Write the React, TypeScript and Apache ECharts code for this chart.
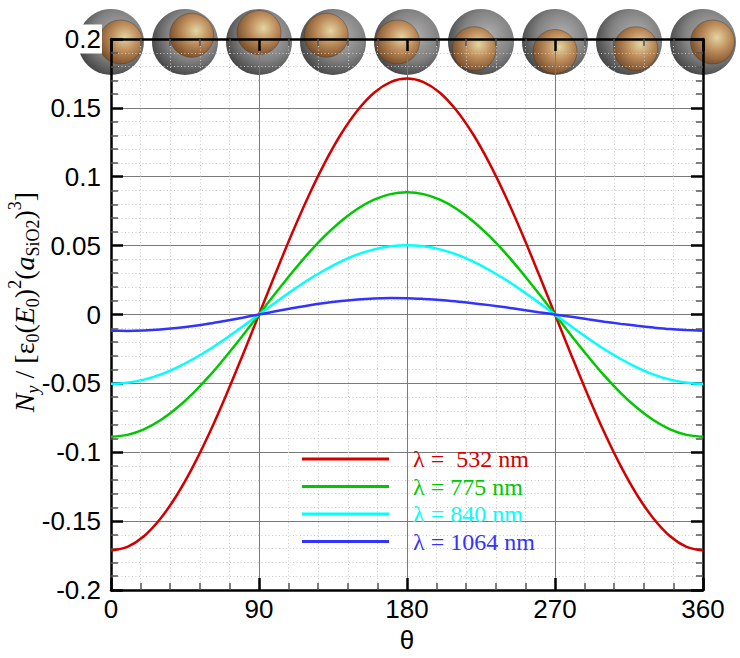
import React, { useEffect, useRef } from "react";
import * as echarts from "echarts";

// ---- data ----
const THETA = [0, 10, 20, 30, 40, 50, 60, 70, 80, 90, 100, 110, 120, 130, 140, 150, 160, 170, 180, 190, 200, 210, 220, 230, 240, 250, 260, 270, 280, 290, 300, 310, 320, 330, 340, 350, 360];

const NY_532 = [-0.1713, -0.1687, -0.161, -0.1483, -0.1312, -0.1101, -0.0857, -0.0586, -0.0297, 0, 0.0297, 0.0586, 0.0857, 0.1101, 0.1312, 0.1483, 0.161, 0.1687, 0.1713, 0.1687, 0.161, 0.1483, 0.1312, 0.1101, 0.0857, 0.0586, 0.0297, 0, -0.0297, -0.0586, -0.0857, -0.1101, -0.1312, -0.1483, -0.161, -0.1687, -0.1713];
const NY_775 = [-0.0887, -0.0874, -0.0834, -0.0768, -0.0679, -0.057, -0.0444, -0.0303, -0.0154, 0, 0.0154, 0.0303, 0.0444, 0.057, 0.0679, 0.0768, 0.0834, 0.0874, 0.0887, 0.0874, 0.0834, 0.0768, 0.0679, 0.057, 0.0444, 0.0303, 0.0154, 0, -0.0154, -0.0303, -0.0444, -0.057, -0.0679, -0.0768, -0.0834, -0.0874, -0.0887];
const NY_840 = [-0.0503, -0.0495, -0.0473, -0.0436, -0.0385, -0.0323, -0.0252, -0.0172, -0.0087, 0, 0.0087, 0.0172, 0.0252, 0.0323, 0.0385, 0.0436, 0.0473, 0.0495, 0.0503, 0.0495, 0.0473, 0.0436, 0.0385, 0.0323, 0.0252, 0.0172, 0.0087, 0, -0.0087, -0.0172, -0.0252, -0.0323, -0.0385, -0.0436, -0.0473, -0.0495, -0.0503];
const NY_1064 = [-0.0118, -0.0119, -0.0116, -0.0109, -0.0098, -0.0084, -0.0066, -0.0045, -0.0023, 0, 0.0023, 0.0045, 0.0066, 0.0084, 0.0098, 0.0109, 0.0116, 0.0119, 0.0118, 0.0113, 0.0106, 0.0095, 0.0082, 0.0068, 0.0052, 0.0035, 0.0017, 0, -0.0017, -0.0035, -0.0052, -0.0068, -0.0082, -0.0095, -0.0106, -0.0113, -0.0118];

const SERIES_VALUES = [NY_532, NY_775, NY_840, NY_1064];
const SERIES_NAMES = ["λ =  532 nm", "λ = 775 nm", "λ = 840 nm", "λ = 1064 nm"];
const SERIES_COLORS = ["#d40000", "#00c800", "#00ffff", "#3333ff"];

const X_MIN = 0;
const X_MAX = 360;
const X_STEP = 90;
const Y_MIN = -0.2;
const Y_MAX = 0.2;
const Y_STEP = 0.05;

// angles of the sphere pictograms along the top edge
const SPHERE_ANGLES = [0, 45, 90, 135, 180, 225, 270, 315, 360];

const TICK_FONT = "'Liberation Sans', Arial, Helvetica, sans-serif";
const SERIF = "'Liberation Serif', 'Times New Roman', serif";

export default function App() {
  const ref = useRef<HTMLDivElement>(null);

  useEffect(() => {
    if (!ref.current) return;
    const chart = echarts.init(ref.current, undefined, { renderer: "svg" });

    const tickCommon = {
      axisLine: { show: true, onZero: false, lineStyle: { color: "#000", width: 2.5 } },
      axisTick: { show: true, inside: true, length: 12, lineStyle: { color: "#000", width: 2.5 } },
      minorTick: { show: true, splitNumber: 5, length: 7, lineStyle: { color: "#555", width: 1.5 } },
    };

    const fmt = (v: number) => String(Math.round(v * 100) / 100);

    const lineSeries = SERIES_VALUES.map((vals, i) => ({
      type: "line",
      name: SERIES_NAMES[i],
      data: THETA.map((t, j) => [t, vals[j]]),
      smooth: 0.35,
      symbol: "none",
      lineStyle: { color: SERIES_COLORS[i], width: 2.5 },
      itemStyle: { color: SERIES_COLORS[i] },
      z: 3,
    }));

    const sphereSeries = {
      type: "custom",
      clip: false,
      silent: true,
      z: -1,
      data: SPHERE_ANGLES.map((a) => [a, Y_MAX]),
      renderItem: (_params: any, api: any) => {
        const a = api.value(0);
        const p = api.coord([a, api.value(1)]);
        const cx = p[0];
        const cy = p[1] + 3;
        const rad = (a * Math.PI) / 180;
        const ix = cx + 9.5 * Math.cos(rad);
        const iy = cy - 9.5 * Math.sin(rad);
        return {
          type: "group",
          children: [
            {
              type: "circle",
              shape: { cx, cy, r: 33 },
              style: {
                fill: new echarts.graphic.RadialGradient(0.6, 0.4, 0.62, [
                  { offset: 0, color: "#b0b0b0" },
                  { offset: 0.6, color: "#828282" },
                  { offset: 1, color: "#4a4a4a" },
                ]),
              },
            },
            {
              type: "circle",
              shape: { cx: ix, cy: iy, r: 22 },
              style: {
                fill: new echarts.graphic.RadialGradient(0.6, 0.4, 0.65, [
                  { offset: 0, color: "#e2d6a2" },
                  { offset: 0.45, color: "#c08f5e" },
                  { offset: 1, color: "#764c28" },
                ]),
                stroke: "rgba(70,50,30,0.4)",
                lineWidth: 1,
              },
            },
          ],
        };
      },
    };

    const option: any = {
      animation: false,
      backgroundColor: "#fff",
      grid: { left: 111, right: 37, top: 39, bottom: 68, containLabel: false },
      legend: {
        show: true,
        orient: "vertical",
        left: 302,
        top: 447,
        padding: 0,
        itemGap: 3.5,
        itemWidth: 87,
        itemHeight: 3,
        icon: "rect",
        selectedMode: false,
        data: SERIES_NAMES.map((n, i) => ({
          name: n,
          textStyle: { color: SERIES_COLORS[i] },
        })),
        textStyle: {
          fontFamily: SERIF,
          fontSize: 24,
          lineHeight: 24,
          padding: [0, 0, 0, 19],
        },
      },
      xAxis: [
        {
          type: "value",
          position: "bottom",
          min: X_MIN,
          max: X_MAX,
          interval: X_STEP,
          ...tickCommon,
          axisLabel: { show: true, margin: 6, fontFamily: TICK_FONT, fontSize: 26, color: "#000" },
          splitLine: { show: true, lineStyle: { color: "#7a7a7a", width: 1 } },
          minorSplitLine: { show: true, lineStyle: { color: "#c8c8c8", width: 1, type: [1, 2.5] } },
          name: "θ",
          nameLocation: "middle",
          nameGap: 20,
          nameTextStyle: { fontFamily: TICK_FONT, fontSize: 26, color: "#000", verticalAlign: "top" },
        },
        {
          type: "value",
          position: "top",
          min: X_MIN,
          max: X_MAX,
          interval: X_STEP,
          ...tickCommon,
          axisLabel: { show: false },
          splitLine: { show: false },
          minorSplitLine: { show: false },
        },
      ],
      yAxis: [
        {
          type: "value",
          position: "left",
          min: Y_MIN,
          max: Y_MAX,
          interval: Y_STEP,
          ...tickCommon,
          axisLabel: {
            show: true,
            margin: 9,
            fontFamily: TICK_FONT,
            fontSize: 26,
            color: "#000",
            formatter: fmt,
            backgroundColor: "#fff",
            padding: [2, 1, 1, 1],
          },
          splitLine: { show: true, lineStyle: { color: "#7a7a7a", width: 1 } },
          minorSplitLine: { show: true, lineStyle: { color: "#c8c8c8", width: 1, type: [1, 2.5] } },
        },
        {
          type: "value",
          position: "right",
          min: Y_MIN,
          max: Y_MAX,
          interval: Y_STEP,
          ...tickCommon,
          axisLabel: { show: false },
          splitLine: { show: false },
          minorSplitLine: { show: false },
        },
      ],
      graphic: [
        {
          type: "text",
          x: 24,
          y: 302,
          rotation: Math.PI / 2,
          z: 10,
          style: {
            text:
              "{i|N}{si|y}{r| / [ε}{s|0}{r|(}{i|E}{s|0}{r|)}{p|2}{r|(}{i|a}{s|SiO2}{r|)}{p|3}{r|]}",
            align: "center",
            verticalAlign: "middle",
            fill: "#000",
            rich: {
              i: { fontFamily: SERIF, fontStyle: "italic", fontSize: 28, lineHeight: 36, verticalAlign: "middle", fill: "#000" },
              r: { fontFamily: SERIF, fontSize: 28, lineHeight: 36, verticalAlign: "middle", fill: "#000" },
              s: { fontFamily: SERIF, fontSize: 18, lineHeight: 16, verticalAlign: "bottom", fill: "#000" },
              si: { fontFamily: SERIF, fontStyle: "italic", fontSize: 18, lineHeight: 16, verticalAlign: "bottom", fill: "#000" },
              p: { fontFamily: SERIF, fontSize: 18, lineHeight: 16, verticalAlign: "top", fill: "#000" },
            },
          },
        },
      ],
      series: [sphereSeries, ...lineSeries],
    };

    chart.setOption(option);
    return () => chart.dispose();
  }, []);

  return (
    <div
      ref={ref}
      style={{ position: "fixed", left: 0, top: 0, width: 740, height: 658 }}
    />
  );
}
